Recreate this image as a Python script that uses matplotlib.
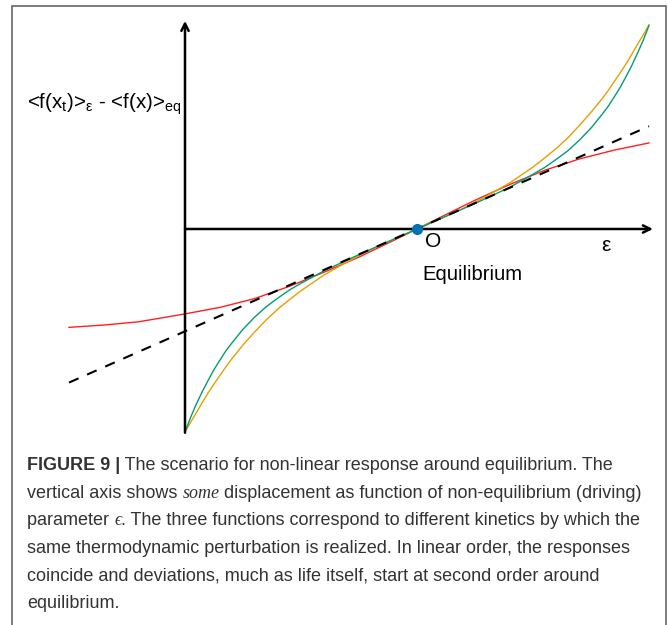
import numpy as np
import matplotlib
matplotlib.use('Agg')
import matplotlib.pyplot as plt
from matplotlib.patches import Rectangle

plt.rcParams['font.family'] = ['Liberation Sans', 'DejaVu Sans']
plt.rcParams['mathtext.fontset'] = 'custom'
plt.rcParams['mathtext.rm'] = 'Liberation Sans'
plt.rcParams['mathtext.it'] = 'Liberation Sans:italic'
plt.rcParams['mathtext.bf'] = 'Liberation Sans:bold'

# curves (eps = driving parameter, O at 0)
eps_fast = [-1.0, -0.975, -0.95, -0.925, -0.9, -0.875, -0.85, -0.825, -0.8, -0.75, -0.7, -0.65,
            -0.6, -0.55, -0.5, -0.4, -0.3, -0.2, -0.1,
            0.0, 0.1, 0.2, 0.3, 0.4, 0.5, 0.55, 0.6, 0.65, 0.7, 0.75, 0.8, 0.825, 0.85, 0.875,
            0.9, 0.925, 0.95, 0.975, 1.0]
orange_y = [-0.875, -0.832, -0.79, -0.747, -0.706, -0.668, -0.632, -0.596, -0.562, -0.50, -0.444,
            -0.392, -0.345, -0.305, -0.266, -0.198, -0.141, -0.089, -0.044,
            0.0, 0.044, 0.089, 0.142, 0.199, 0.267, 0.306, 0.347, 0.393, 0.446, 0.503, 0.564,
            0.598, 0.635, 0.672, 0.710, 0.752, 0.795, 0.836, 0.88]
green_y = [-0.875, -0.81, -0.752, -0.70, -0.652, -0.606, -0.566, -0.527, -0.494, -0.432, -0.380,
           -0.335, -0.298, -0.263, -0.234, -0.180, -0.133, -0.088, -0.044,
           0.0, 0.044, 0.088, 0.133, 0.180, 0.236, 0.265, 0.300, 0.337, 0.383, 0.435, 0.497,
           0.530, 0.569, 0.609, 0.655, 0.703, 0.757, 0.813, 0.877]

eps_red = [-1.5, -1.35, -1.2, -1.0, -0.85, -0.7, -0.55, -0.4, -0.25, -0.1, 0.0,
           0.1, 0.25, 0.4, 0.55, 0.7, 0.85, 1.0]
red_y = [-0.424, -0.414, -0.400, -0.366, -0.338, -0.300, -0.247, -0.186, -0.121, -0.049, 0.0,
         0.050, 0.124, 0.192, 0.253, 0.302, 0.340, 0.371]

eps_lin = [-1.5, 1.0]
lin_y = [-0.662, 0.443]

caption = [
    [("FIGURE 9 |", 'b'), (" The scenario for non-linear response around equilibrium. The", 'n')],
    [("vertical axis shows ", 'n'), ("some", 'i'), (" displacement as function of non-equilibrium (driving)", 'n')],
    [("parameter ", 'n'), ("\u03f5", 'i'), (". The three functions correspond to different kinetics by which the", 'n')],
    [("same thermodynamic perturbation is realized. In linear order, the responses", 'n')],
    [("coincide and deviations, much as life itself, start at second order around", 'n')],
    [("equilibrium.", 'n')],
]

W, H = 668, 625
fig = plt.figure(figsize=(W / 100, H / 100), dpi=100)
ax = fig.add_axes([0, 0, 1, 1])
# 232 px per unit, O sits at pixel (417, 229)
ax.set_xlim(-417 / 232, (W - 417) / 232)
ax.set_ylim((229 - H) / 232, 229 / 232)
ax.axis('off')

fig.patches.append(Rectangle((12 / W, -0.1), (666 - 12) / W, 1.1 - 6 / H, transform=fig.transFigure,
                             fill=False, edgecolor='#666666', lw=1.2))

ax.plot(eps_lin, lin_y, color='black', lw=1.5, dashes=(5, 4.5), zorder=3)
ax.plot(eps_red, red_y, color='#ff2020', lw=1.0, zorder=2)
ax.plot(eps_fast, orange_y, color='#E69F00', lw=1.0, zorder=2)
ax.plot(eps_fast, green_y, color='#009E73', lw=1.0, zorder=2)

ax.annotate('', xy=(-1.0, 0.897), xytext=(-1.0, -0.878),
            arrowprops=dict(arrowstyle='->', lw=1.8, color='black', mutation_scale=13, shrinkA=0, shrinkB=0))
ax.annotate('', xy=(1.017, 0), xytext=(-1.0, 0),
            arrowprops=dict(arrowstyle='->', lw=1.8, color='black', mutation_scale=13, shrinkA=0, shrinkB=0))
ax.plot([0], [0], 'o', color='#0072B2', ms=7, zorder=5)

ax.text(0.069, -0.056, 'O', fontsize=15, ha='center', va='center')
ax.text(0.815, -0.069, 'ε', fontsize=15, ha='center', va='center')
ax.text(0.241, -0.194, 'Equilibrium', fontsize=14.6, ha='center', va='center')

fig.text(27 / W, 1 - 104 / H, '<f(x$_\\mathrm{t}$)>$_\\mathrm{ε}$ - <f(x)>$_\\mathrm{eq}$',
         fontsize=14.8, ha='left', va='center')

renderer = fig.canvas.get_renderer()
cap_size = 13.0
y0, dy = 466, 27.4
for i, line in enumerate(caption):
    x = 27.0
    for txt, style in line:
        kw = dict(fontsize=cap_size, color='#333333', va='center', ha='left')
        if style == 'b':
            kw['fontweight'] = 'bold'
        elif style == 'i':
            kw['family'] = ['Liberation Serif', 'DejaVu Serif']
            kw['style'] = 'italic'
        t = fig.text(x / W, 1 - (y0 + i * dy) / H, txt, **kw)
        x += t.get_window_extent(renderer).width

fig.savefig('out.png', dpi=100)
